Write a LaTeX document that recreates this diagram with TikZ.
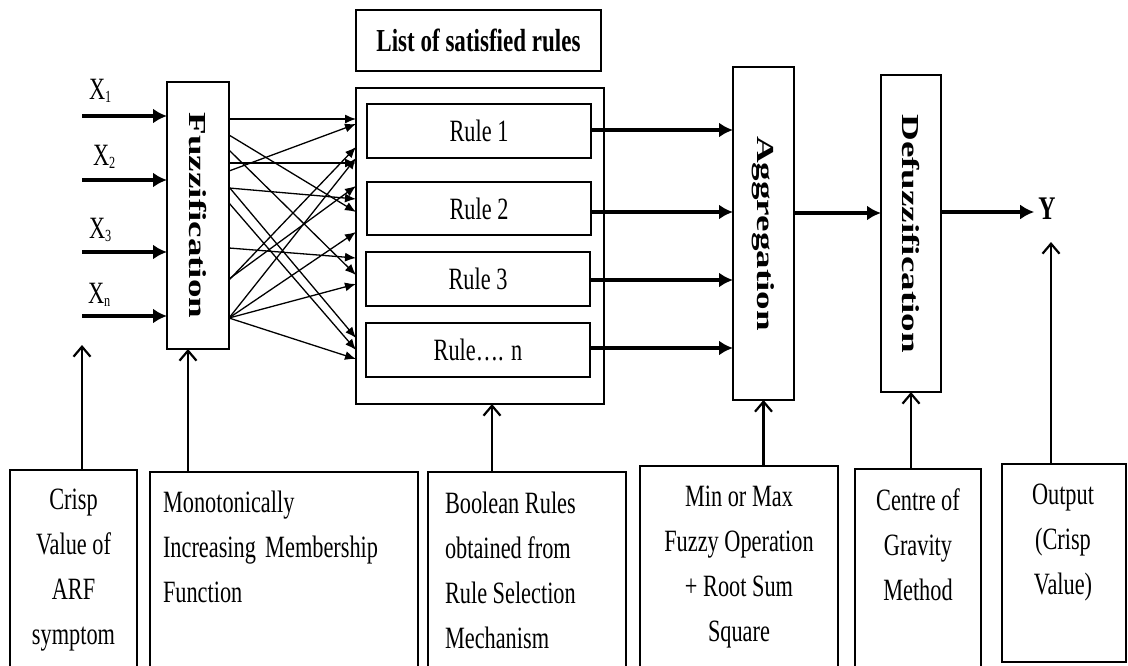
\documentclass[tikz,border=0pt]{standalone}
\usepackage{fontspec}
\setmainfont{Liberation Serif}[FakeStretch=0.72]
\newfontfamily\rotfont{Liberation Serif}
\usepackage{graphicx}
\usetikzlibrary{arrows.meta,calc}
\tikzset{
  box/.style={draw, line width=1.3pt, inner sep=0pt, outer sep=0pt, anchor=north west},
  rulebox/.style={box, fill=white, minimum width=224pt, minimum height=54pt, font=\fontsize{31}{31}\selectfont},
  txt/.style={font=\fontsize{31}{45}\selectfont, inner sep=0pt, outer sep=0pt},
  thickarr/.style={line width=3.2pt, -{Latex[length=14pt,width=15pt]}},
  thinarr/.style={line width=1.3pt, -{Latex[length=11pt,width=9pt]}},
  uparr/.style={line width=2.2pt, -{Straight Barb[length=10pt,width=17pt,line width=2.2pt]}},
}
\newcommand{\rotlabel}[1]{\scalebox{1}[0.66]{\rotfont\bfseries\fontsize{37}{37}\selectfont #1}}
\newcommand{\sub}[1]{\raisebox{-3pt}{\fontsize{17}{17}\selectfont #1}}

\begin{document}
\begin{tikzpicture}[x=1pt,y=-1pt]
\clip (0,0) rectangle (1128,665);
\fill[white] (0,0) rectangle (1128,665);

% Fuzzification block
\node[box, minimum width=62pt, minimum height=267pt] (fuzz) at (167,82) {};
\node[rotate=-90, inner sep=0pt] (fuzzlbl) at (fuzz.center) {\rotlabel{Fuzzification}};

% Inputs
\node[txt, anchor=base west] (x1) at (89,99) {X\sub{1}};
\node[txt, anchor=base west] (x2) at (93,165) {X\sub{2}};
\node[txt, anchor=base west] (x3) at (89,238) {X\sub{3}};
\node[txt, anchor=base west] (xn) at (88,303) {X\sub{n}};
\coordinate (in1) at (82,116);
\coordinate (in2) at (82,180);
\coordinate (in3) at (82,252);
\coordinate (inn) at (82,316);
\foreach \c in {in1,in2,in3,inn}
  \draw[thickarr] (\c) -- (fuzz.west |- \c);

% Rule container
\node[box, minimum width=245pt, minimum height=61pt, font=\bfseries\fontsize{32}{32}\selectfont] (listbox) at (356,10) {List of satisfied rules};
\node[box, minimum width=248pt, minimum height=316pt] (rulecont) at (356,88) {};

% crossing connectors
\foreach \a/\b in {119/119, 171/124, 280/147, 318/158, 163/163, 279/186, 188/199, 135/212, 318/232, 248/258, 150/275, 318/284, 187/338, 203/350, 318/359}
  \draw[thinarr] (fuzz.east |- 0,\a) -- (rulecont.west |- 0,\b);

\node[rulebox] (r1) at (367,104) {Rule 1};
\node[rulebox, minimum height=53pt] (r2) at (367,182) {Rule 2};
\node[rulebox] (r3) at (366,252) {Rule 3};
\node[rulebox] (rn) at (366,323) {Rule…. n};

% Aggregation and Defuzzification
\node[box, minimum width=61pt, minimum height=333pt] (agg) at (733,67) {};
\node[rotate=-90, inner sep=0pt] (agglbl) at (agg.center) {\rotlabel{Aggregation}};
\node[box, minimum width=60pt, minimum height=317pt] (defuzz) at (881,75) {};
\node[rotate=-90, inner sep=0pt] (defuzzlbl) at (defuzz.center) {\rotlabel{Defuzzification}};

\draw[thickarr] (r1.east |- 0,130) -- (agg.west |- 0,130);
\draw[thickarr] (r2.east |- 0,212) -- (agg.west |- 0,212);
\draw[thickarr] (r3.east |- 0,280) -- (agg.west |- 0,280);
\draw[thickarr] (rn.east |- 0,348) -- (agg.west |- 0,348);
\draw[thickarr] (agg.east |- 0,213) -- (defuzz.west |- 0,213);

\node[font=\bfseries\fontsize{33}{33}\selectfont, anchor=base, inner sep=0pt] (yout) at (1047,219) {Y};
\draw[thickarr, shorten >=4pt] (defuzz.east |- 0,212) -- (yout.west |- 0,212);

% Bottom boxes
\node[box, minimum width=127pt, minimum height=220pt] (crispbox) at (10,470) {};
\node[box, minimum width=268pt, minimum height=220pt] (monobox) at (150,472) {};
\node[box, minimum width=198pt, minimum height=220pt] (boolbox) at (428,472) {};
\node[box, minimum width=198pt, minimum height=220pt] (minbox) at (640,466) {};
\node[box, minimum width=126pt, minimum height=220pt] (centrebox) at (855,469) {};
\node[box, minimum width=124pt, minimum height=198pt] (outbox) at (1002,464) {};

\node[txt, anchor=north, align=center] (crisptxt) at (73.5,489) {Crisp\\Value of\\ARF\\symptom};
\node[txt, anchor=north west, align=left] (monotxt) at (163,491) {Monotonically\\Increasing\hspace{0.12em} Membership\\Function};
\node[txt, anchor=north west, align=left] (booltxt) at (445,492) {Boolean Rules\\obtained from\\Rule Selection\\Mechanism};
\node[txt, anchor=north, align=center] (mintxt) at (739,486) {Min or Max\\Fuzzy Operation\\+ Root Sum\\Square};
\node[txt, anchor=north, align=center] (centretxt) at (918,489) {Centre of\\Gravity\\Method};
\node[txt, anchor=north, align=center] (outtxt) at (1063,484) {Output\\(Crisp\\Value)};

% Up arrows
\coordinate (c1) at (82,345);
\coordinate (c2) at (188,349);
\coordinate (c3) at (492,404);
\coordinate (c6) at (1051,242);
\draw[uparr] (c1 |- crispbox.north) -- (c1);
\draw[uparr] (c2 |- monobox.north) -- (c2);
\draw[uparr] (c3 |- boolbox.north) -- (c3);
\draw[uparr] (agg.south |- minbox.north) -- (agg.south);
\draw[uparr] (defuzz.south |- centrebox.north) -- (defuzz.south);
\draw[uparr] (c6 |- outbox.north) -- (c6);
\end{tikzpicture}
\end{document}
